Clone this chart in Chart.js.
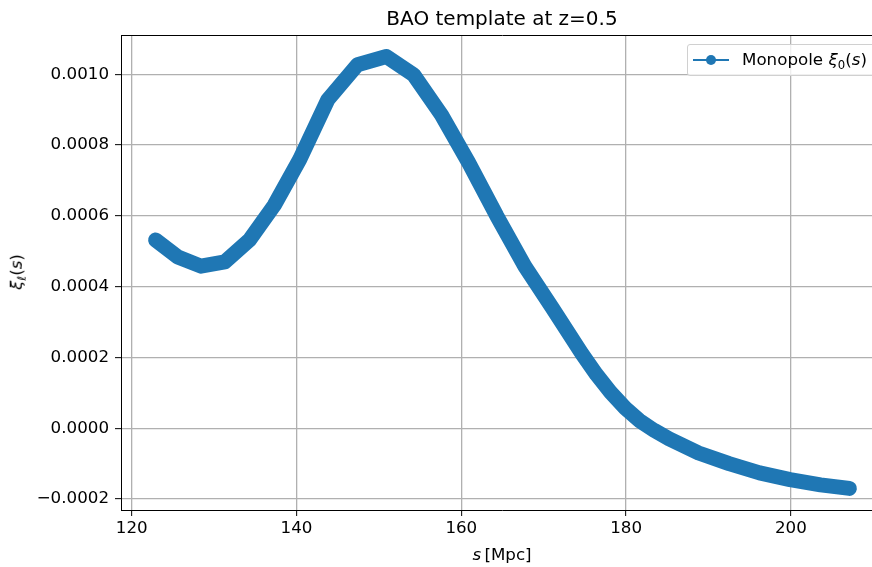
<!DOCTYPE html>
<html>
<head>
<meta charset="utf-8">
<script src="https://cdn.jsdelivr.net/npm/chart.js@4/dist/chart.umd.min.js"></script>
<style>
  html, body { margin: 0; padding: 0; background: #fff; }
  body { width: 872px; height: 567px; overflow: hidden; position: relative; font-family: 'DejaVu Sans', sans-serif; }
  #wrap { position: absolute; left: 0; top: 0; width: 886px; height: 567px; }
  .lbl { position: absolute; white-space: nowrap; color: #000; }
  #title { font-size: 20px; left: 502px; top: 18px; transform: translate(-50%, -50%); }
  #xlabel { font-size: 16.7px; left: 502px; top: 554px; transform: translate(-50%, -50%); }
  #ylabel { font-size: 16.7px; left: 17px; top: 272px; transform: translate(-50%, -50%) rotate(-90deg); }
  #legend {
    position: absolute; left: 687px; top: 44px; width: 192px; height: 30px;
    border: 1px solid #d0d0d0; border-radius: 3px; background: rgba(255,255,255,0.8);
    font-size: 16.7px;
  }
  #legend .handle { position: absolute; left: 5px; top: 14px; width: 36px; height: 2px; background: #1f77b4; }
  #legend .dot { position: absolute; left: 18px; top: 10px; width: 10px; height: 10px; border-radius: 50%; background: #1f77b4; }
  #legend .txt { position: absolute; left: 54px; top: 4px; }
  sub { font-size: 70%; vertical-align: -0.3em; }
</style>
</head>
<body>
<div id="wrap"><canvas id="chart"></canvas></div>
<div id="title" class="lbl">BAO template at z=0.5</div>
<div id="xlabel" class="lbl"><i>s</i>&#8201;[Mpc]</div>
<div id="ylabel" class="lbl"><i>ξ</i><sub><i>ℓ</i></sub>(<i>s</i>)</div>
<div id="legend">
  <div class="handle"></div><div class="dot"></div>
  <div class="txt">Monopole <i>ξ</i><sub>0</sub>(<i>s</i>)</div>
</div>
<script>
// ── Data ──────────────────────────────────────────────────────────────────────
const sValues  = [122.9, 125.6, 128.4, 131.3, 134.3, 137.3, 140.4, 143.8, 147.4, 150.9,
                  154.2, 157.6, 160.9, 164.3, 167.7, 171.1, 174.6, 176.4, 178.1, 179.9,
                  181.6, 183.4, 185.2, 188.8, 192.5, 196.2, 199.9, 203.6, 207.1];
const xiValues = [0.000532, 0.000484, 0.000458, 0.000470, 0.000532, 0.000630, 0.000760, 0.000928, 0.001027, 0.001050,
                  0.000999, 0.000885, 0.000750, 0.000600, 0.000458, 0.000338, 0.000212, 0.000152, 0.000102, 0.000057,
                  0.000022, -0.000006, -0.000030, -0.000070, -0.000100, -0.000126, -0.000145, -0.000160, -0.000170];
const xTicks = [120, 140, 160, 180, 200];
const yTicks = [-0.0002, 0, 0.0002, 0.0004, 0.0006, 0.0008, 0.0010];

const FONT = { family: "'DejaVu Sans', sans-serif", size: 16.7 };

// top spine (right spine falls outside the visible window)
const frame = {
  id: 'frame',
  afterDraw(chart) {
    const { ctx, chartArea: a } = chart;
    ctx.save();
    ctx.strokeStyle = '#000';
    ctx.lineWidth = 1;
    ctx.beginPath();
    ctx.moveTo(a.left, a.top + 0.5);
    ctx.lineTo(a.right, a.top + 0.5);
    ctx.stroke();
    ctx.restore();
  }
};

new Chart(document.getElementById('chart'), {
  type: 'line',
  data: {
    datasets: [{
      label: 'Monopole',
      data: sValues.map((s, i) => ({ x: s, y: xiValues[i] })),
      borderColor: '#1f77b4',
      backgroundColor: '#1f77b4',
      borderWidth: 15,
      borderCapStyle: 'round',
      borderJoinStyle: 'round',
      pointRadius: 0,
      tension: 0,
    }]
  },
  options: {
    responsive: true,
    maintainAspectRatio: false,
    animation: false,
    layout: { padding: { top: 35, right: 2, left: 0, bottom: 0 } },
    plugins: { legend: { display: false }, tooltip: { enabled: false } },
    scales: {
      x: {
        type: 'linear',
        min: 118.7,
        max: 211.3,
        afterBuildTicks: ax => { ax.ticks = xTicks.map(v => ({ value: v })); },
        afterFit: ax => { ax.height = 57; },
        ticks: { color: '#000', font: FONT, padding: 3, maxRotation: 0, callback: v => String(v) },
        grid: { color: '#b0b0b0', lineWidth: 1.3, tickColor: '#000', tickLength: 6, tickWidth: 1 },
        border: { color: '#000', width: 1 },
      },
      y: {
        min: -0.000231,
        max: 0.001111,
        afterBuildTicks: ax => { ax.ticks = yTicks.map(v => ({ value: v })); },
        afterFit: ax => { ax.width = 121; },
        ticks: {
          color: '#000', font: FONT, padding: 6,
          callback: v => (v < -1e-12 ? '\u2212' : '') + Math.abs(v).toFixed(4),
        },
        grid: { color: '#b0b0b0', lineWidth: 1.3, tickColor: '#000', tickLength: 6, tickWidth: 1 },
        border: { color: '#000', width: 1 },
      }
    }
  },
  plugins: [frame]
});
</script>
</body>
</html>
